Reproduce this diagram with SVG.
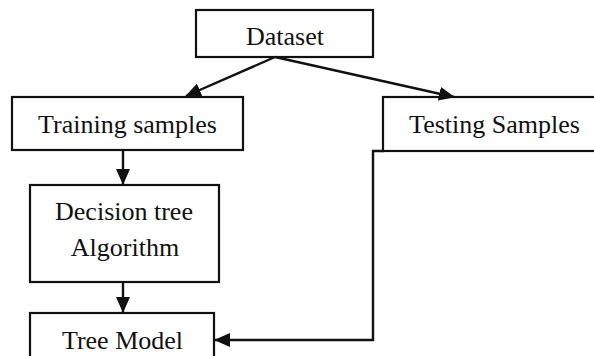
<svg xmlns="http://www.w3.org/2000/svg" width="594" height="356" viewBox="0 0 594 356">
<style>
.box{fill:#fff;stroke:#111;stroke-width:2.2}
.t{font-family:"Liberation Serif","Times New Roman",serif;font-size:26px;fill:#111;text-anchor:middle}
.c{fill:none;stroke:#111;stroke-width:2.4}
</style>
<defs>
<marker id="ah" markerWidth="16" markerHeight="14" refX="15" refY="7" orient="auto" markerUnits="userSpaceOnUse">
<path d="M0,0 L16,7 L0,14 Z" fill="#111"/>
</marker>
</defs>
<rect width="594" height="356" fill="#fff"/>
<g id="dataset"><rect class="box" x="196" y="10" width="177" height="47"/><text class="t" x="285" y="45">Dataset</text></g>
<g id="training"><rect class="box" x="12" y="97" width="231" height="53"/><text class="t" x="127.5" y="133">Training samples</text></g>
<g id="testing"><rect class="box" x="383" y="97" width="220" height="54"/><text class="t" x="494.5" y="133">Testing Samples</text></g>
<g id="decision"><rect class="box" x="30" y="185" width="189" height="97"/><text class="t" x="124" y="220">Decision tree</text><text class="t" x="125" y="256">Algorithm</text></g>
<g id="treemodel"><rect class="box" x="30" y="313" width="184" height="60"/><text class="t" x="122.5" y="349">Tree Model</text></g>
<g id="connectors">
<line class="c" x1="275" y1="57" x2="186" y2="96" marker-end="url(#ah)"/>
<line class="c" x1="275" y1="57" x2="454" y2="97" marker-end="url(#ah)"/>
<line class="c" x1="123" y1="150" x2="123" y2="184" marker-end="url(#ah)"/>
<line class="c" x1="123" y1="282" x2="123" y2="312" marker-end="url(#ah)"/>
<polyline class="c" points="384,151 373,151 373,340 215,340" marker-end="url(#ah)"/>
</g>
</svg>
